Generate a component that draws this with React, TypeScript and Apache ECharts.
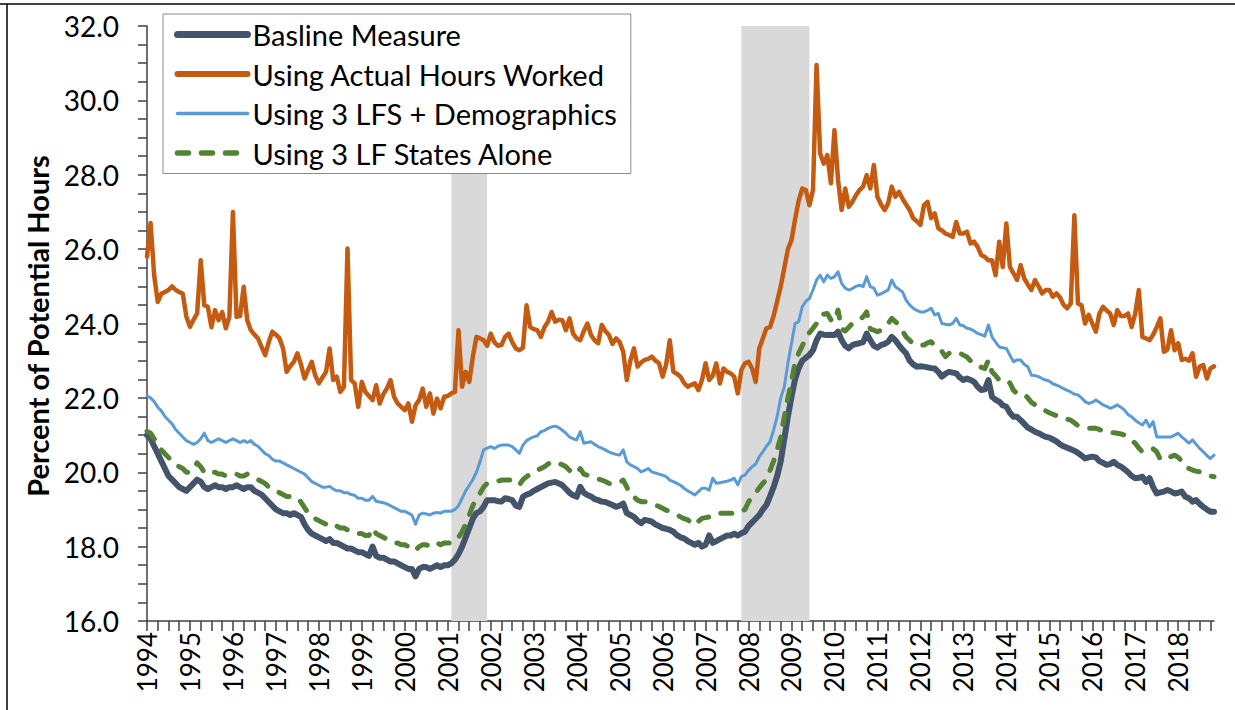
import React, { useEffect, useRef } from "react";
import * as echarts from "echarts";

// ---- categories (monthly, Jan 1994 – Nov 2018) ----
const firstYear = 1994;
const lastYear = 2018;
const lastMonthOfLastYear = 11;
const months: string[] = [];
for (let y = firstYear; y <= lastYear; y++) {
  for (let m = 1; m <= 12; m++) {
    if (y === lastYear && m > lastMonthOfLastYear) break;
    months.push(`${y}-${String(m).padStart(2, "0")}`);
  }
}

// ---- y axis ----
const yMin = 16;
const yMax = 32;
const yMinorStep = 0.5;
const yLabelStep = 2;

// ---- recessions (shaded) ----
const recessions: [string, string][] = [
  ["2001-02", "2001-12"],
  ["2007-11", "2009-06"],
];

// ---- series names ----
const seriesNames = [
  "Basline Measure",
  "Using Actual Hours Worked",
  "Using 3 LFS + Demographics",
  "Using 3 LF States Alone",
];

// ---- series values (percent of potential hours), one row per year ----
const baseline = [
  21.0, 20.9, 20.7, 20.5, 20.3, 20.1, 19.9, 19.8, 19.7, 19.6, 19.55, 19.5, // 1994
  19.6, 19.7, 19.8, 19.75, 19.6, 19.55, 19.6, 19.65, 19.6, 19.6, 19.55, 19.6, // 1995
  19.6, 19.65, 19.6, 19.55, 19.6, 19.6, 19.5, 19.45, 19.4, 19.3, 19.2, 19.1, // 1996
  19.0, 18.95, 18.9, 18.9, 18.85, 18.9, 18.85, 18.8, 18.6, 18.45, 18.35, 18.3, // 1997
  18.25, 18.2, 18.15, 18.2, 18.1, 18.1, 18.05, 18.0, 17.95, 17.95, 17.9, 17.85, // 1998
  17.85, 17.8, 17.75, 18.0, 17.75, 17.7, 17.7, 17.65, 17.6, 17.6, 17.55, 17.5, // 1999
  17.45, 17.4, 17.4, 17.2, 17.4, 17.45, 17.45, 17.4, 17.45, 17.5, 17.45, 17.5, // 2000
  17.5, 17.55, 17.65, 17.8, 18.0, 18.25, 18.5, 18.75, 18.9, 18.95, 19.07, 19.25, // 2001
  19.25, 19.25, 19.22, 19.21, 19.3, 19.28, 19.25, 19.1, 19.07, 19.34, 19.4, 19.43, // 2002
  19.5, 19.55, 19.6, 19.65, 19.7, 19.72, 19.74, 19.7, 19.65, 19.55, 19.45, 19.38, // 2003
  19.34, 19.61, 19.45, 19.39, 19.35, 19.28, 19.25, 19.21, 19.2, 19.16, 19.12, 19.07, // 2004
  19.1, 19.16, 18.9, 18.85, 18.8, 18.7, 18.63, 18.72, 18.7, 18.67, 18.6, 18.55, // 2005
  18.5, 18.48, 18.45, 18.4, 18.31, 18.25, 18.22, 18.15, 18.1, 18.05, 18.1, 18.0, // 2006
  18.05, 18.3, 18.1, 18.15, 18.2, 18.25, 18.3, 18.3, 18.35, 18.3, 18.36, 18.4, // 2007
  18.55, 18.65, 18.75, 18.85, 19.0, 19.12, 19.35, 19.6, 19.9, 20.3, 20.9, 21.5, // 2008
  22.03, 22.5, 22.8, 23.0, 23.08, 23.15, 23.28, 23.55, 23.73, 23.7, 23.69, 23.7, // 2009
  23.69, 23.78, 23.55, 23.4, 23.33, 23.42, 23.45, 23.47, 23.5, 23.73, 23.55, 23.4, // 2010
  23.35, 23.42, 23.45, 23.51, 23.64, 23.55, 23.42, 23.3, 23.2, 23.0, 22.9, 22.84, // 2011
  22.85, 22.84, 22.82, 22.8, 22.79, 22.7, 22.57, 22.65, 22.7, 22.68, 22.66, 22.55, // 2012
  22.48, 22.52, 22.48, 22.43, 22.3, 22.21, 22.23, 22.48, 22.03, 21.95, 21.9, 21.8, // 2013
  21.76, 21.6, 21.49, 21.49, 21.4, 21.3, 21.2, 21.15, 21.09, 21.05, 21.0, 20.95, // 2014
  20.93, 20.88, 20.83, 20.75, 20.7, 20.66, 20.62, 20.58, 20.52, 20.45, 20.37, 20.4, // 2015
  20.42, 20.4, 20.3, 20.25, 20.2, 20.22, 20.28, 20.2, 20.15, 20.08, 20.0, 19.9, // 2016
  19.84, 19.85, 19.88, 19.74, 19.84, 19.6, 19.43, 19.46, 19.48, 19.52, 19.48, 19.43, // 2017
  19.45, 19.48, 19.34, 19.3, 19.21, 19.25, 19.15, 19.07, 19.0, 18.94, 18.94, // 2018
];

const actualHours = [
  25.8, 26.7, 25.3, 24.58, 24.8, 24.85, 24.9, 25.0, 24.9, 24.85, 24.8, 24.18, // 1994
  23.91, 24.1, 24.27, 25.7, 24.49, 24.45, 23.9, 24.36, 24.09, 24.31, 23.87, 24.18, // 1995
  27.0, 24.18, 24.2, 24.99, 24.09, 23.82, 23.7, 23.6, 23.37, 23.15, 23.5, 23.78, // 1996
  23.7, 23.6, 23.33, 22.7, 22.85, 22.97, 23.2, 22.9, 22.52, 22.75, 22.97, 22.6, // 1997
  22.39, 22.55, 22.7, 23.33, 22.48, 22.57, 22.16, 22.3, 26.02, 22.48, 22.39, 21.76, // 1998
  22.43, 22.16, 22.05, 21.94, 22.34, 21.85, 22.1, 22.25, 22.48, 22.03, 21.85, 21.76, // 1999
  21.67, 21.85, 21.36, 21.8, 21.94, 22.25, 21.76, 22.12, 21.58, 21.98, 21.72, 22.03, // 2000
  22.05, 22.12, 22.16, 23.82, 22.3, 22.7, 22.43, 23.1, 23.64, 23.6, 23.55, 23.4, // 2001
  23.73, 23.5, 23.4, 23.42, 23.64, 23.73, 23.5, 23.33, 23.28, 23.35, 24.49, 23.91, // 2002
  23.85, 23.82, 23.64, 23.9, 24.05, 24.31, 24.05, 24.1, 24.09, 23.82, 24.14, 23.73, // 2003
  23.6, 23.55, 23.8, 24.0, 23.69, 23.55, 23.47, 23.96, 23.8, 23.69, 23.45, 23.6, // 2004
  23.5, 23.24, 22.48, 23.0, 23.33, 22.84, 22.95, 23.02, 23.05, 23.11, 23.0, 22.93, // 2005
  22.57, 22.9, 23.55, 22.7, 22.65, 22.57, 22.4, 22.3, 22.35, 22.39, 22.21, 22.48, // 2006
  22.93, 22.48, 22.6, 22.93, 22.39, 22.79, 22.7, 22.66, 22.57, 22.12, 22.75, 22.93, // 2007
  22.97, 22.79, 22.43, 23.33, 23.6, 23.87, 23.9, 24.2, 24.6, 25.0, 25.5, 26.0, // 2008
  26.24, 26.8, 27.3, 27.63, 27.59, 27.18, 27.59, 30.95, 28.57, 28.3, 28.53, 27.77, // 2009
  29.2, 27.86, 27.05, 27.63, 27.14, 27.27, 27.45, 27.59, 27.68, 27.99, 27.63, 28.26, // 2010
  27.41, 27.2, 27.05, 27.23, 27.68, 27.41, 27.54, 27.36, 27.2, 27.05, 26.83, 26.75, // 2011
  26.65, 27.18, 27.27, 26.83, 26.96, 26.56, 26.5, 26.42, 26.38, 26.33, 26.73, 26.42, // 2012
  26.42, 26.47, 26.15, 26.2, 26.06, 25.84, 25.79, 25.7, 25.7, 25.3, 26.2, 25.52, // 2013
  26.69, 25.52, 25.35, 25.17, 25.57, 25.21, 25.05, 24.9, 25.17, 25.0, 24.81, 24.9, // 2014
  24.9, 24.72, 24.81, 24.7, 24.5, 24.41, 24.54, 26.91, 24.54, 24.49, 24.0, 24.23, // 2015
  24.0, 23.78, 24.27, 24.45, 24.35, 24.27, 23.96, 24.36, 24.2, 24.2, 24.27, 23.91, // 2016
  24.27, 24.9, 23.64, 23.6, 23.55, 23.7, 23.9, 24.14, 23.24, 23.3, 23.82, 23.28, // 2017
  23.47, 23.02, 23.05, 23.0, 23.2, 22.57, 22.84, 22.88, 22.52, 22.79, 22.85, // 2018
];

const lfsDemographics = [
  22.05, 22.0, 21.9, 21.75, 21.65, 21.5, 21.4, 21.3, 21.15, 21.05, 20.95, 20.85, // 1994
  20.8, 20.75, 20.8, 20.9, 21.05, 20.85, 20.8, 20.85, 20.9, 20.85, 20.8, 20.85, // 1995
  20.9, 20.85, 20.8, 20.85, 20.8, 20.85, 20.75, 20.7, 20.6, 20.5, 20.45, 20.35, // 1996
  20.3, 20.3, 20.25, 20.2, 20.15, 20.1, 20.05, 20.0, 19.95, 19.85, 19.75, 19.7, // 1997
  19.65, 19.6, 19.6, 19.62, 19.55, 19.5, 19.5, 19.45, 19.45, 19.4, 19.38, 19.3, // 1998
  19.3, 19.25, 19.25, 19.35, 19.22, 19.2, 19.18, 19.15, 19.1, 19.05, 19.0, 18.95, // 1999
  18.95, 18.9, 18.85, 18.6, 18.85, 18.9, 18.88, 18.85, 18.9, 18.92, 18.9, 18.95, // 2000
  18.95, 18.95, 19.0, 19.1, 19.3, 19.5, 19.65, 19.8, 20.0, 20.28, 20.6, 20.65, // 2001
  20.69, 20.64, 20.7, 20.73, 20.73, 20.73, 20.69, 20.6, 20.51, 20.73, 20.85, 20.91, // 2002
  20.95, 20.98, 21.09, 21.12, 21.18, 21.22, 21.24, 21.2, 21.13, 21.05, 20.95, 20.9, // 2003
  20.87, 21.09, 20.78, 20.8, 20.82, 20.75, 20.69, 20.65, 20.6, 20.55, 20.51, 20.48, // 2004
  20.46, 20.6, 20.28, 20.2, 20.15, 20.1, 20.01, 20.05, 20.1, 20.01, 19.98, 19.95, // 2005
  19.92, 19.88, 19.79, 19.75, 19.7, 19.65, 19.57, 19.5, 19.45, 19.39, 19.48, 19.57, // 2006
  19.57, 19.52, 19.84, 19.7, 19.72, 19.74, 19.76, 19.79, 19.84, 19.66, 19.88, 19.92, // 2007
  20.05, 20.15, 20.22, 20.42, 20.55, 20.7, 20.82, 21.13, 21.5, 22.0, 22.3, 22.93, // 2008
  23.47, 24.0, 24.05, 24.45, 24.6, 24.67, 24.9, 25.17, 25.3, 25.12, 25.3, 25.21, // 2009
  25.26, 25.39, 25.08, 24.95, 24.9, 24.94, 25.0, 25.03, 24.99, 25.26, 24.99, 24.95, // 2010
  24.76, 24.8, 24.85, 24.9, 25.17, 24.99, 24.92, 24.85, 24.63, 24.5, 24.41, 24.35, // 2011
  24.31, 24.31, 24.35, 24.41, 24.23, 24.27, 24.0, 23.98, 23.96, 24.0, 24.14, 23.96, // 2012
  23.94, 23.87, 23.85, 23.8, 23.73, 23.7, 23.66, 23.96, 23.64, 23.5, 23.37, 23.35, // 2013
  23.33, 23.15, 22.97, 23.02, 23.02, 22.9, 22.84, 22.61, 22.6, 22.57, 22.52, 22.48, // 2014
  22.45, 22.38, 22.34, 22.3, 22.25, 22.2, 22.16, 22.1, 22.08, 22.0, 21.9, 21.85, // 2015
  21.88, 21.94, 21.88, 21.81, 21.77, 21.72, 21.76, 21.81, 21.75, 21.67, 21.55, 21.49, // 2016
  21.4, 21.33, 21.27, 21.4, 21.22, 21.36, 20.95, 20.95, 20.95, 20.95, 20.95, 21.0, // 2017
  21.05, 20.95, 20.87, 20.78, 20.87, 20.75, 20.64, 20.55, 20.45, 20.37, 20.46, // 2018
];

const lfStates = [
  21.1, 21.05, 20.9, 20.75, 20.6, 20.5, 20.4, 20.3, 20.2, 20.15, 20.1, 20.0, // 1994
  20.0, 20.1, 20.25, 20.15, 20.0, 19.95, 20.0, 20.0, 19.95, 19.95, 19.9, 19.95, // 1995
  19.95, 19.95, 19.9, 19.9, 19.95, 19.9, 19.85, 19.8, 19.75, 19.7, 19.6, 19.55, // 1996
  19.5, 19.45, 19.4, 19.35, 19.35, 19.3, 19.3, 19.2, 19.05, 18.9, 18.8, 18.75, // 1997
  18.7, 18.65, 18.6, 18.65, 18.6, 18.55, 18.5, 18.5, 18.45, 18.45, 18.4, 18.35, // 1998
  18.35, 18.3, 18.3, 18.5, 18.35, 18.3, 18.25, 18.2, 18.15, 18.1, 18.1, 18.05, // 1999
  18.05, 18.0, 18.0, 17.9, 18.0, 18.05, 18.05, 18.0, 18.05, 18.1, 18.05, 18.1, // 2000
  18.1, 18.1, 18.15, 18.25, 18.4, 18.6, 18.85, 19.1, 19.3, 19.43, 19.6, 19.7, // 2001
  19.72, 19.74, 19.76, 19.79, 19.79, 19.79, 19.79, 19.7, 19.66, 19.8, 19.88, 19.95, // 2002
  20.01, 20.05, 20.1, 20.15, 20.22, 20.28, 20.26, 20.24, 20.2, 20.15, 20.05, 19.97, // 2003
  19.97, 20.1, 19.95, 19.92, 19.88, 19.84, 19.82, 19.79, 19.75, 19.7, 19.7, 19.7, // 2004
  19.72, 19.79, 19.6, 19.4, 19.34, 19.25, 19.21, 19.21, 19.2, 19.16, 19.12, 19.08, // 2005
  19.03, 18.98, 18.95, 18.9, 18.85, 18.8, 18.75, 18.72, 18.65, 18.58, 18.68, 18.76, // 2006
  18.78, 18.8, 18.85, 18.9, 18.9, 18.9, 18.9, 18.9, 18.9, 18.9, 18.95, 19.0, // 2007
  19.2, 19.35, 19.45, 19.58, 19.7, 19.8, 20.05, 20.3, 20.6, 20.95, 21.5, 22.0, // 2008
  22.45, 22.95, 23.2, 23.4, 23.6, 23.75, 23.87, 24.0, 24.2, 24.25, 24.27, 24.1, // 2009
  24.05, 24.36, 23.85, 23.8, 23.9, 24.0, 24.05, 24.1, 24.18, 24.31, 23.85, 23.82, // 2010
  23.78, 23.82, 23.91, 24.0, 24.14, 24.05, 23.96, 23.8, 23.64, 23.55, 23.45, 23.42, // 2011
  23.42, 23.42, 23.48, 23.51, 23.4, 23.33, 23.25, 23.11, 23.2, 23.22, 23.24, 23.2, // 2012
  23.15, 23.1, 23.0, 22.97, 22.9, 22.82, 22.79, 23.02, 22.7, 22.6, 22.48, 22.48, // 2013
  22.48, 22.4, 22.2, 22.12, 22.12, 22.1, 22.0, 21.88, 21.82, 21.75, 21.7, 21.65, // 2014
  21.6, 21.56, 21.52, 21.49, 21.46, 21.43, 21.4, 21.33, 21.25, 21.22, 21.2, 21.18, // 2015
  21.18, 21.18, 21.15, 21.1, 21.09, 21.08, 21.06, 21.05, 21.03, 21.0, 20.95, 20.85, // 2016
  20.78, 20.65, 20.55, 20.58, 20.6, 20.63, 20.55, 20.35, 20.33, 20.37, 20.42, 20.46, // 2017
  20.4, 20.3, 20.15, 20.1, 20.06, 20.03, 20.01, 19.97, 19.92, 19.9, 19.88, // 2018
];

const FONT = "Lato, 'Noto Sans', sans-serif";

const colors = ["#44546A", "#C55A11", "#5B9BD5", "#548235"];
const widths = [6, 4.5, 3, 5];
const legendWidths = [7, 6, 3.5, 5.5];
const dashed: (number[] | "solid")[] = ["solid", "solid", "solid", [11, 13]];

export default function App() {
  const ref = useRef<HTMLDivElement>(null);

  useEffect(() => {
    if (!ref.current) return;
    const chart = echarts.init(ref.current, undefined, { renderer: "svg" });

    const lineBase = {
      type: "line" as const,
      symbol: "none",
      showSymbol: false,
      smooth: false,
      silent: true,
    };

    const values = [baseline, actualHours, lfsDemographics, lfStates];

    chart.setOption({
      animation: false,
      backgroundColor: "#ffffff",
      textStyle: { fontFamily: FONT },
      grid: { left: 147, right: 21, top: 26, bottom: 89, containLabel: false },
      legend: {
        data: seriesNames.map((name, i) => ({
          name,
          itemStyle: { opacity: 0 },
          lineStyle: {
            color: colors[i],
            width: legendWidths[i],
            type: dashed[i],
            cap: "round",
          },
        })),
        orient: "vertical",
        left: 163,
        top: 14,
        padding: [6, 14, 6, 11],
        itemGap: 10.5,
        itemWidth: 70,
        itemHeight: 20,
        borderColor: "#8c8c8c",
        borderWidth: 1,
        backgroundColor: "#ffffff",
        selectedMode: false,
        textStyle: { fontFamily: FONT, fontSize: 29, color: "#000", padding: [0, 0, 0, 0] },
      },
      xAxis: {
        type: "category",
        data: months,
        boundaryGap: false,
        axisLine: { show: true, lineStyle: { color: "#404040", width: 1.5 } },
        axisTick: {
          show: true,
          interval: 2,
          length: 10,
          inside: false,
          lineStyle: { color: "#404040", width: 1.5 },
        },
        axisLabel: {
          interval: 11,
          rotate: 90,
          margin: 11,
          fontFamily: FONT,
          fontSize: 26,
          color: "#000",
          formatter: (v: string) => v.slice(0, 4),
        },
        splitLine: { show: false },
      },
      yAxis: {
        type: "value",
        min: yMin,
        max: yMax,
        interval: yMinorStep,
        axisLine: { show: true, lineStyle: { color: "#404040", width: 1.5 } },
        axisTick: { show: true, length: 9, inside: false, lineStyle: { color: "#404040", width: 1.5 } },
        axisLabel: {
          margin: 28,
          fontFamily: FONT,
          fontSize: 28,
          color: "#000",
          formatter: (v: number) =>
            Math.abs(v / yLabelStep - Math.round(v / yLabelStep)) < 1e-6 ? v.toFixed(1) : "",
        },
        splitLine: { show: false },
      },
      graphic: [
        {
          type: "line",
          shape: { x1: 0, y1: 4, x2: 1235, y2: 4 },
          style: { stroke: "#000", lineWidth: 1.5 },
          silent: true,
        },
        {
          type: "line",
          shape: { x1: 7, y1: 4, x2: 7, y2: 710 },
          style: { stroke: "#000", lineWidth: 1.5 },
          silent: true,
        },
        {
          type: "text",
          x: 37,
          y: 326,
          rotation: Math.PI / 2,
          style: {
            text: "Percent of Potential Hours",
            fontFamily: FONT,
            fontSize: 29,
            fontWeight: "bold",
            fill: "#000",
            align: "center",
            verticalAlign: "middle",
          },
          silent: true,
        },
      ],
      series: [
        {
          ...lineBase,
          name: "recessions",
          data: [],
          z: 1,
          markArea: {
            silent: true,
            itemStyle: { color: "#D9D9D9" },
            data: recessions.map(([a, b]) => [{ xAxis: a }, { xAxis: b }]),
          },
        },
        ...seriesNames.map((name, i) => ({
          ...lineBase,
          name,
          data: values[i],
          z: 3 + i,
          color: colors[i],
          lineStyle: {
            color: colors[i],
            width: widths[i],
            type: dashed[i],
            join: "round",
            cap: "round",
          },
        })),
      ],
    });

    return () => chart.dispose();
  }, []);

  return (
    <div
      ref={ref}
      style={{ position: "fixed", left: 0, top: 0, width: 1235, height: 710, background: "#fff" }}
    />
  );
}
